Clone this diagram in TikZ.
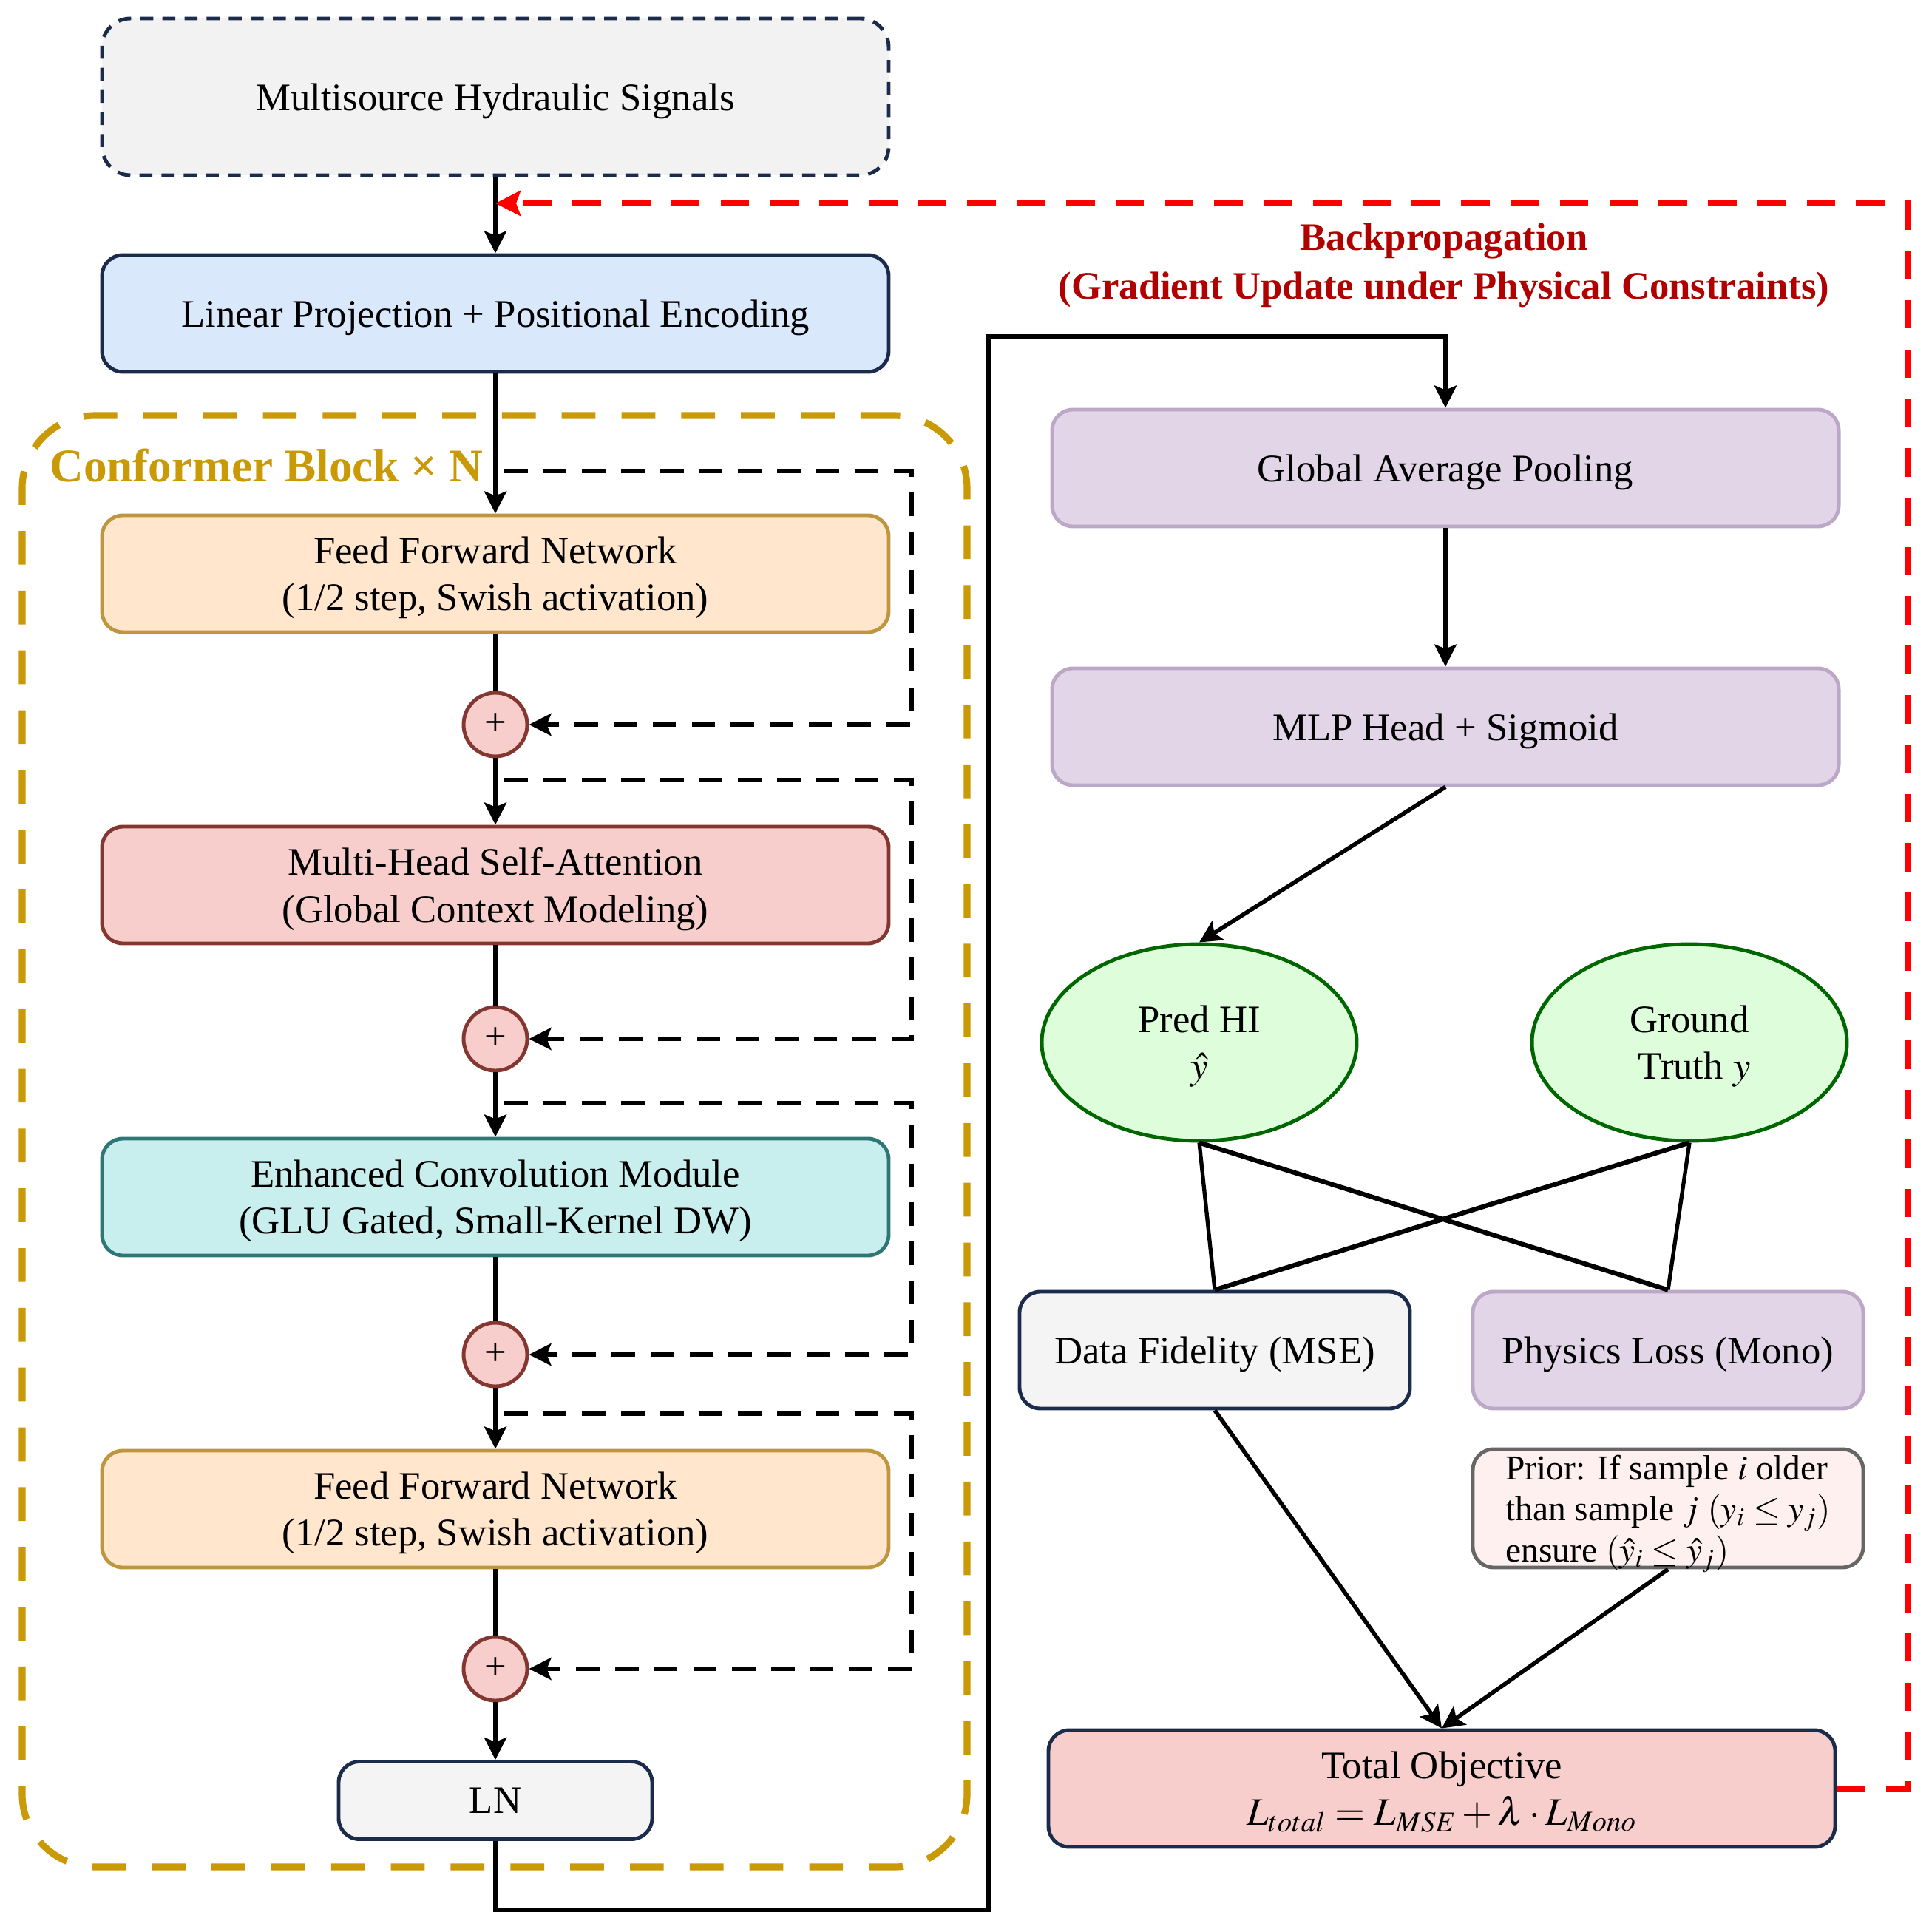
\documentclass[tikz,border=0pt]{standalone}
\usepackage{mathptmx}
\usepackage{fontspec}
\setmainfont{Liberation Serif}
\usepackage{tikz}
\usetikzlibrary{arrows.meta,positioning,shapes.geometric}
\definecolor{navy}{HTML}{1B2B4B}
\definecolor{srcfill}{HTML}{F2F2F2}
\definecolor{linfill}{HTML}{DAE8FC}
\definecolor{ffnfill}{HTML}{FFE6CC}
\definecolor{ffnline}{HTML}{BF9640}
\definecolor{attfill}{HTML}{F8CECC}
\definecolor{attline}{HTML}{843630}
\definecolor{cnvfill}{HTML}{C8EEEE}
\definecolor{cnvline}{HTML}{2E7774}
\definecolor{poolfill}{HTML}{E1D5E7}
\definecolor{poolline}{HTML}{BDA7C6}
\definecolor{iofill}{HTML}{DDFDDB}
\definecolor{ioline}{HTML}{006600}
\definecolor{lnfill}{HTML}{F4F4F4}
\definecolor{priorfill}{HTML}{FDF0EE}
\definecolor{priorline}{HTML}{666666}
\definecolor{gold}{HTML}{C99A06}
\definecolor{bpred}{HTML}{FF0000}
\definecolor{bptext}{HTML}{B00000}

\begin{document}
\begin{tikzpicture}[
      font=\fontsize{15}{18}\selectfont,
      blk/.style={draw=navy, rounded corners=8pt, align=center, line width=1.4pt,
        minimum width=10.64cm, minimum height=1.58cm, inner sep=3pt, text depth=0pt},
      src/.style={blk, fill=srcfill, minimum height=2.12cm, rounded corners=11pt,
        dash pattern=on 5pt off 3.5pt},
      lin/.style={blk, fill=linfill},
      ffn/.style={blk, draw=ffnline, fill=ffnfill},
      att/.style={blk, draw=attline, fill=attfill},
      cnv/.style={blk, draw=cnvline, fill=cnvfill},
      pool/.style={blk, draw=poolline, fill=poolfill},
      loss/.style={blk, minimum width=5.28cm},
      add/.style={circle, draw=attline, fill=attfill, line width=1.4pt,
        minimum size=0.86cm, inner sep=0pt},
      io/.style={ellipse, draw=ioline, fill=iofill, line width=1.4pt, text depth=0pt,
        minimum width=4.26cm, minimum height=2.66cm, align=center},
      frame/.style={draw=gold, line width=2.6pt, rounded corners=28pt,
        dash pattern=on 13pt off 10pt, minimum width=12.78cm, minimum height=19.63cm},
      arr/.style={-{Stealth[length=3mm, width=3mm, inset=0.6mm]}, line width=1.6pt},
      res/.style={arr, dash pattern=on 9pt off 6pt},
      bp/.style={-{Stealth[length=3.4mm, width=3.4mm, inset=0.6mm]}, draw=bpred,
        line width=2.2pt, dash pattern=on 11pt off 8pt},
    ]
    \useasboundingbox (0,0) rectangle (26.08,-26.13);
    % encoder side
    \node[frame] (conf) at (6.69,-15.435) {};
    \node[anchor=west, text=gold, font=\fontsize{18}{22}\selectfont\bfseries] (conflbl)
      at (0.55,-6.30) {Conformer Block × N};
    \node[src] (sig) at (6.70,-1.31) {Multisource Hydraulic Signals};
    \node[lin] (proj) at (6.70,-4.24) {Linear Projection + Positional Encoding};
    \node[ffn] (ffna) at (6.70,-7.76) {Feed Forward Network\\(1/2 step, Swish activation)};
    \node[add] (adda) at (6.70,-9.80) {+};
    \node[att] (mhsa) at (6.70,-11.97) {Multi-Head Self-Attention\\(Global Context Modeling)};
    \node[add] (addb) at (6.70,-14.05) {+};
    \node[cnv] (conv) at (6.70,-16.19) {Enhanced Convolution Module\\(GLU Gated, Small-Kernel DW)};
    \node[add] (addc) at (6.70,-18.32) {+};
    \node[ffn] (ffnb) at (6.70,-20.41) {Feed Forward Network\\(1/2 step, Swish activation)};
    \node[add] (addd) at (6.70,-22.57) {+};
    \node[blk, fill=lnfill, minimum width=4.24cm, minimum height=1.05cm] (ln) at (6.70,-24.35) {LN};
    % head side
    \node[pool] (gap) at (19.55,-6.33) {Global Average Pooling};
    \node[pool] (mlp) at (19.55,-9.83) {MLP Head + Sigmoid};
    \node[io] (pred) at (16.22,-14.10) {Pred HI\\$\hat{y}$};
    \node[io] (truth) at (22.85,-14.10) {Ground\\\ Truth $y$};
    \node[loss, fill=lnfill] (mse) at (16.43,-18.26) {Data Fidelity (MSE)};
    \node[loss, draw=poolline, fill=poolfill] (mono) at (22.56,-18.26) {Physics Loss (Mono)};
    \node[loss, draw=priorline, fill=priorfill, minimum height=1.60cm, align=left, inner ysep=0pt,
      font=\fontsize{13.5}{15.8}\selectfont] (prior) at (22.56,-20.40)
      {Prior: If sample $i$ older\\than sample $j$ $(y_i\leq y_j)$\\ensure $(\hat{y}_i\leq\hat{y}_j)$};
    \node[blk, fill=attfill] (total) at (19.50,-24.19) {Total Objective\\$L_{total}=L_{MSE}+\lambda\cdot L_{Mono}$};
    \node[text=bptext, font=\fontsize{15}{19}\selectfont\bfseries, align=center] (bplbl)
      at (19.53,-3.59) {Backpropagation\\(Gradient Update under Physical Constraints)};
    % main path
    \draw[arr] (sig) -- (proj); \draw[arr] (proj) -- (ffna);
    \draw[line width=1.6pt] (ffna) -- (adda); \draw[arr] (adda) -- (mhsa);
    \draw[line width=1.6pt] (mhsa) -- (addb); \draw[arr] (addb) -- (conv);
    \draw[line width=1.6pt] (conv) -- (addc); \draw[arr] (addc) -- (ffnb);
    \draw[line width=1.6pt] (ffnb) -- (addd); \draw[arr] (addd) -- (ln);
    % residuals
    \coordinate (ra) at (6.82,-6.37); \coordinate (rb) at (6.82,-10.55);
    \coordinate (rc) at (6.82,-14.92); \coordinate (rd) at (6.82,-19.12);
    \draw[res] (ra) -- (12.33,-6.37) |- (adda.east);
    \draw[res] (rb) -- (12.33,-10.55) |- (addb.east);
    \draw[res] (rc) -- (12.33,-14.92) |- (addc.east);
    \draw[res] (rd) -- (12.33,-19.12) |- (addd.east);
    % to the head
    \coordinate (lo) at (13.37,-25.83); \coordinate (hi) at (13.37,-4.55);
    \draw[arr] (ln.south) |- (lo) -- (hi) -| (gap.north);
    \draw[arr] (gap) -- (mlp);
    \draw[arr] (mlp.south) -- (pred.north);
    \draw[line width=1.5pt] (pred.south) -- (mse.north);
    \draw[line width=1.8pt] (pred.south) -- (mono.north);
    \draw[line width=1.8pt] (truth.south) -- (mse.north);
    \draw[line width=1.5pt] (truth.south) -- (mono.north);
    \draw[arr] (mse.south) -- (total.north);
    \draw[arr] (prior.south) -- (total.north);
    % backpropagation
    \coordinate (bpc) at (25.80,-24.19); \coordinate (bpin) at (6.70,-2.75);
    \draw[bp] (total.east) -- (bpc) |- (bpin);
  \end{tikzpicture}
\end{document}
